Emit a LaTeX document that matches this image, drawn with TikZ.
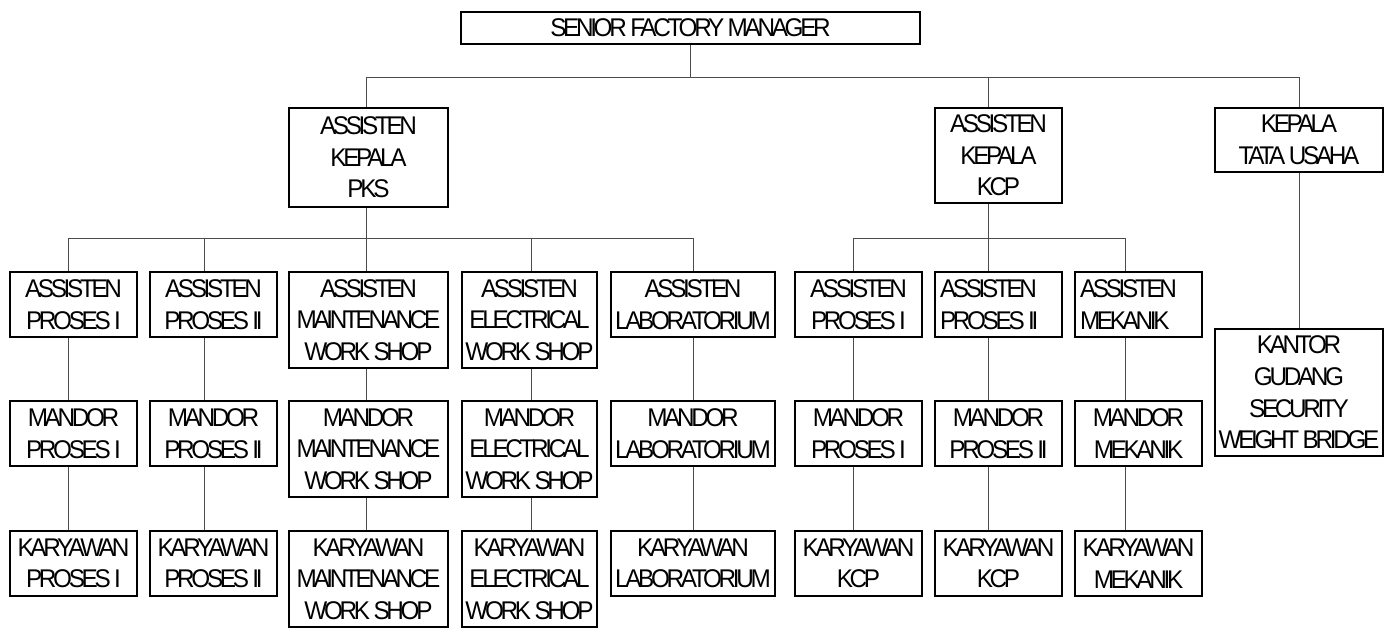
\documentclass[tikz,border=0pt]{standalone}
\usepackage{fontspec}
\setmainfont{Liberation Sans}[FakeStretch=0.95,LetterSpace=-13]
\begin{document}
\begin{tikzpicture}[x=0.5pt,y=-0.5pt,
  box/.style={draw,line width=0.65pt,inner sep=0pt,align=center,
    font=\fontsize{12.8}{15.8}\selectfont},
  sz/.style 2 args={minimum width=#1*0.5pt,minimum height=#2*0.5pt},
  flushleft/.style={text width=(#1-10)*0.5pt,align=flush left},
  wire/.style={draw=black!70,line width=0.5pt}]
  \useasboundingbox (0,0) rectangle (1393,627);
  % bus lines and column positions:
  \coordinate (bus1) at (0,77);
  \coordinate (bus2) at (0,238);
  \foreach \c/\x in {1/68,2/204,3/366,4/531,5/693,6/853,7/988,8/1125}
    \coordinate (x\c) at (\x,0);
  % top level:
  \node[box,sz={459}{32}] (sfm) at (690.5,28) {SENIOR FACTORY MANAGER};
  \node[box,sz={159}{99}] (akpks) at (368.5,157.5) {ASSISTEN\\KEPALA\\PKS};
  \node[box,sz={127}{95}] (akkcp) at (998.5,155.5) {ASSISTEN\\KEPALA\\KCP};
  \node[box,sz={168}{64}] (ktu) at (1299,140) {KEPALA\\TATA USAHA};
  \node[box,sz={168}{127}] (kantor) at (1299,392.5) {KANTOR\\GUDANG\\SECURITY\\WEIGHT BRIDGE};
  % assisten row:
  \node[box,sz={127}{65}] (a1) at (73.5,304.5) {ASSISTEN\\PROSES I};
  \node[box,sz={127}{65}] (a2) at (213.5,304.5) {ASSISTEN\\PROSES II};
  \node[box,sz={159}{96}] (a3) at (368.5,320) {ASSISTEN\\MAINTENANCE\\WORK SHOP};
  \node[box,sz={135}{96}] (a4) at (529.5,320) {ASSISTEN\\ELECTRICAL\\WORK SHOP};
  \node[box,sz={164}{65}] (a5) at (693,304.5) {ASSISTEN\\LABORATORIUM};
  \node[box,sz={127}{65}] (a6) at (858.5,304.5) {ASSISTEN\\PROSES I};
  \node[box,sz={127}{65},flushleft=127] (a7) at (998.5,304.5) {ASSISTEN\\PROSES II};
  \node[box,sz={127}{65},flushleft=127] (a8) at (1138.5,304.5) {ASSISTEN\\MEKANIK};
  % mandor row:
  \node[box,sz={127}{65}] (m1) at (73.5,433.5) {MANDOR\\PROSES I};
  \node[box,sz={127}{65}] (m2) at (213.5,433.5) {MANDOR\\PROSES II};
  \node[box,sz={159}{96}] (m3) at (368.5,449) {MANDOR\\MAINTENANCE\\WORK SHOP};
  \node[box,sz={135}{96}] (m4) at (529.5,449) {MANDOR\\ELECTRICAL\\WORK SHOP};
  \node[box,sz={164}{65}] (m5) at (693,433.5) {MANDOR\\LABORATORIUM};
  \node[box,sz={127}{65}] (m6) at (858.5,433.5) {MANDOR\\PROSES I};
  \node[box,sz={127}{65}] (m7) at (998.5,433.5) {MANDOR\\PROSES II};
  \node[box,sz={127}{65}] (m8) at (1138.5,433.5) {MANDOR\\MEKANIK};
  % karyawan row:
  \node[box,sz={127}{65}] (k1) at (73.5,563.5) {KARYAWAN\\PROSES I};
  \node[box,sz={127}{65}] (k2) at (213.5,563.5) {KARYAWAN\\PROSES II};
  \node[box,sz={159}{96}] (k3) at (368.5,579) {KARYAWAN\\MAINTENANCE\\WORK SHOP};
  \node[box,sz={135}{96}] (k4) at (529.5,579) {KARYAWAN\\ELECTRICAL\\WORK SHOP};
  \node[box,sz={164}{65}] (k5) at (693,563.5) {KARYAWAN\\LABORATORIUM};
  \node[box,sz={127}{65}] (k6) at (858.5,563.5) {KARYAWAN\\KCP};
  \node[box,sz={127}{65}] (k7) at (998.5,563.5) {KARYAWAN\\KCP};
  \node[box,sz={127}{65}] (k8) at (1138.5,563.5) {KARYAWAN\\MEKANIK};
  % top connectors:
  \draw[wire] (sfm.south) -- (sfm.south |- bus1);
  \draw[wire] (akpks.north -| x3) |- (ktu.north |- bus1) -- (ktu.north);
  \draw[wire] (x7 |- bus1) -- (akkcp.north -| x7);
  \draw[wire] (ktu.south) -- (kantor.north);
  % second bus lines:
  \draw[wire] (akpks.south -| x3) -- (x3 |- bus2);
  \draw[wire] (akkcp.south -| x7) -- (x7 |- bus2);
  \draw[wire] (x1 |- bus2) -- (x5 |- bus2);
  \draw[wire] (x6 |- bus2) -- (x8 |- bus2);
  % columns:
  \foreach \c in {1,...,8} {
    \draw[wire] (x\c |- bus2) -- (a\c.north -| x\c);
    \draw[wire] (a\c.south -| x\c) -- (m\c.north -| x\c);
    \draw[wire] (m\c.south -| x\c) -- (k\c.north -| x\c);
  }
\end{tikzpicture}
\end{document}
